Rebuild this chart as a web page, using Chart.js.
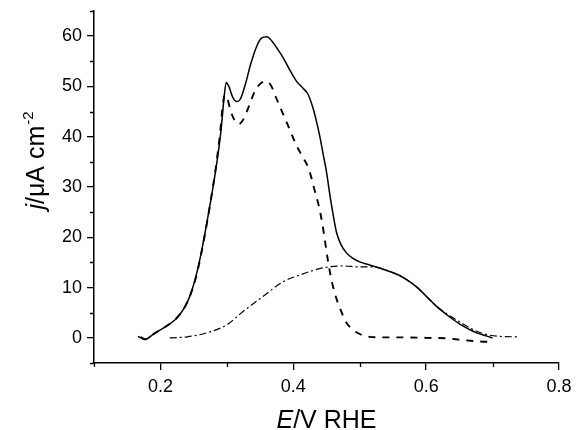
<!DOCTYPE html>
<html>
<head>
<meta charset="utf-8">
<script src="https://cdn.jsdelivr.net/npm/chart.js@4/dist/chart.umd.min.js"></script>
<style>
  body { margin: 0; background: #fff; }
  #wrap { width: 576px; height: 430px; }
</style>
</head>
<body>
<div id="wrap"><canvas id="cv" width="576" height="430"></canvas></div>
<script>
// potential in V vs RHE, current density in uA cm-2
const solidE = [0.166, 0.177, 0.19, 0.2, 0.212, 0.222, 0.23, 0.237, 0.244, 0.252, 0.26, 0.268, 0.276, 0.284, 0.291, 0.296, 0.299, 0.303, 0.309, 0.315, 0.32, 0.328, 0.336, 0.345, 0.352, 0.36, 0.368, 0.376, 0.384, 0.395, 0.405, 0.415, 0.422, 0.429, 0.435, 0.44, 0.445, 0.45, 0.455, 0.46, 0.465, 0.472, 0.48, 0.49, 0.5, 0.515, 0.53, 0.545, 0.56, 0.575, 0.586, 0.6, 0.616, 0.632, 0.65, 0.665, 0.676, 0.69, 0.7];
const solidJ = [0.3, -0.3, 0.8, 1.6, 2.6, 3.6, 4.8, 6.2, 8.2, 11.5, 16, 21.5, 27.5, 34, 41, 48, 50.8, 50, 47.8, 47, 47.4, 50.5, 54.5, 58, 59.6, 59.9, 59, 57.5, 55.9, 53.2, 51, 49.6, 48.5, 46, 43, 40, 36.5, 33, 28.5, 24.5, 21, 18.5, 16.9, 15.8, 15.1, 14.5, 13.9, 13.2, 12.4, 11.2, 10.1, 8.3, 6.2, 4.5, 2.8, 1.7, 1.0, 0.4, 0.0];

const dashE = [0.17, 0.177, 0.19, 0.2, 0.212, 0.222, 0.23, 0.237, 0.244, 0.252, 0.26, 0.268, 0.276, 0.284, 0.29, 0.294, 0.297, 0.301, 0.306, 0.312, 0.318, 0.325, 0.333, 0.342, 0.35, 0.358, 0.366, 0.375, 0.384, 0.395, 0.405, 0.415, 0.422, 0.428, 0.432, 0.438, 0.444, 0.448, 0.452, 0.456, 0.46, 0.466, 0.473, 0.48, 0.485, 0.495, 0.503, 0.515, 0.53, 0.56, 0.6, 0.63, 0.66, 0.68, 0.7];
const dashJ = [0.2, -0.3, 0.8, 1.6, 2.6, 3.6, 4.8, 6.2, 8.2, 11.3, 15.8, 21.3, 27.5, 34.5, 41, 46.5, 48.3, 47.5, 45, 43.2, 42.5, 43.5, 46, 49, 50.5, 51, 50.3, 47.5, 44.7, 41.3, 38.2, 35.8, 34, 31.5, 29.4, 26.5, 22.5, 19, 15.5, 12.5, 10.1, 7.4, 5, 3, 2.2, 1.1, 0.6, 0.2, 0.1, 0.1, 0, -0.1, -0.5, -0.7, -0.8];

const dotE = [0.214, 0.24, 0.27, 0.3, 0.324, 0.354, 0.384, 0.41, 0.444, 0.475, 0.5, 0.52, 0.53, 0.545, 0.56, 0.575, 0.586, 0.6, 0.616, 0.632, 0.655, 0.67, 0.69, 0.71, 0.74];
const dotJ = [0, 0.2, 1, 2.6, 5.2, 8.2, 11.1, 12.5, 13.9, 14.3, 14.1, 14.1, 13.9, 13.2, 12.4, 11.2, 10.1, 8.3, 6.3, 4.7, 2.8, 1.7, 0.7, 0.3, 0.2];

const xMajor = [0.2, 0.4, 0.6, 0.8];
const xMinor = [0.1, 0.3, 0.5, 0.7];
const yMajor = [0, 10, 20, 30, 40, 50, 60];
const yMinor = [-5, 5, 15, 25, 35, 45, 55, 65];

const FONT = "'Liberation Sans', Arial, sans-serif";

function pts(xs, ys) { return xs.map((x, i) => ({ x: x, y: ys[i] })); }

function line(data, dash, w) {
  return {
    data: data,
    borderColor: '#000',
    borderWidth: w,
    borderDash: dash,
    pointRadius: 0,
    showLine: true,
    fill: false,
    cubicInterpolationMode: 'monotone'
  };
}

const isMajX = v => xMajor.some(m => Math.abs(m - v) < 1e-6);
const isMajY = v => yMajor.includes(Math.round(v));

function noPad(s) {
  s.paddingTop = 0; s.paddingBottom = 0; s.paddingLeft = 0; s.paddingRight = 0;
}

// short minor ticks and the mixed-style axis titles
const extras = {
  id: 'extras',
  afterDraw(chart) {
    const ctx = chart.ctx;
    const xs = chart.scales.x, ys = chart.scales.y;
    ctx.save();
    ctx.strokeStyle = '#000';
    ctx.lineWidth = 1.3;
    ctx.beginPath();
    xMinor.forEach(v => {
      const px = Math.round(xs.getPixelForValue(v)) + 0.5;
      ctx.moveTo(px, ys.bottom); ctx.lineTo(px, ys.bottom + 4);
    });
    yMinor.forEach(v => {
      const py = Math.round(ys.getPixelForValue(v)) + 0.5;
      ctx.moveTo(xs.left, py); ctx.lineTo(xs.left - 4, py);
    });
    ctx.stroke();

    ctx.fillStyle = '#000';
    ctx.textBaseline = 'alphabetic';
    // x title
    const f1 = 'italic 25px ' + FONT, f2 = '25px ' + FONT;
    ctx.font = f1; const wE = ctx.measureText('E').width;
    ctx.font = f2; const wR = ctx.measureText('/V RHE').width;
    let x0 = (xs.left + xs.right) / 2 - (wE + wR) / 2;
    ctx.font = f1; ctx.fillText('E', x0, 428);
    ctx.font = f2; ctx.fillText('/V RHE', x0 + wE, 428);

    // y title, rotated
    ctx.translate(44, 161);
    ctx.rotate(-Math.PI / 2);
    ctx.font = f1; const wj = ctx.measureText('j').width;
    ctx.font = f2; const wm = ctx.measureText('/\u03BCA cm').width;
    ctx.font = '15px ' + FONT; const ws = ctx.measureText('-2').width;
    let s = -(wj + wm + ws) / 2;
    ctx.font = f1; ctx.fillText('j', s, 0);
    ctx.font = f2; ctx.fillText('/\u03BCA cm', s + wj, 0);
    ctx.font = '15px ' + FONT; ctx.fillText('-2', s + wj + wm + 1, -11);
    ctx.restore();
  }
};

new Chart(document.getElementById('cv'), {
  type: 'scatter',
  data: {
    datasets: [
      line(pts(solidE, solidJ), [], 1.5),
      line(pts(dashE, dashJ), [7, 7], 1.9),
      line(pts(dotE, dotJ), [7, 3, 2, 3], 1.2)
    ]
  },
  options: {
    responsive: false,
    animation: false,
    layout: { padding: { top: 11, right: 17, left: 0, bottom: 0 } },
    plugins: { legend: { display: false }, tooltip: { enabled: false } },
    scales: {
      x: {
        type: 'linear', min: 0.1, max: 0.8,
        afterFit: s => { s.height = 67; noPad(s); },
        border: { color: '#000', width: 1.5 },
        grid: {
          drawOnChartArea: false, tickLength: 7, lineWidth: 1.3,
          tickColor: c => isMajX(c.tick.value) ? '#000' : 'rgba(0,0,0,0)'
        },
        ticks: {
          stepSize: 0.1, padding: 6, color: '#000', maxRotation: 0, autoSkip: false,
          font: { family: FONT, size: 18 },
          callback: v => isMajX(v) ? (Math.round(v * 10) / 10).toFixed(1) : ''
        }
      },
      y: {
        type: 'linear', min: -5, max: 65,
        afterFit: s => { s.width = 94; noPad(s); },
        border: { color: '#000', width: 1.5 },
        grid: {
          drawOnChartArea: false, tickLength: 7, lineWidth: 1.3,
          tickColor: c => isMajY(c.tick.value) ? '#000' : 'rgba(0,0,0,0)'
        },
        ticks: {
          stepSize: 5, padding: 5, color: '#000', autoSkip: false,
          font: { family: FONT, size: 18 },
          callback: v => isMajY(v) ? String(Math.round(v)) : ''
        }
      }
    }
  },
  plugins: [extras]
});
</script>
</body>
</html>
